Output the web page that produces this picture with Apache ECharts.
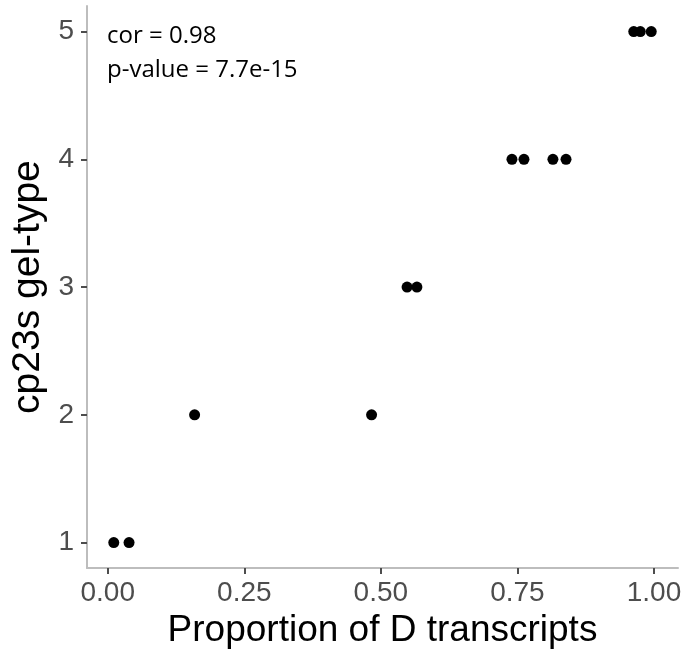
<!DOCTYPE html>
<html>
<head>
<meta charset="utf-8">
<script src="https://cdn.jsdelivr.net/npm/echarts@6/dist/echarts.min.js"></script>
<style>
  html, body { margin: 0; padding: 0; background: #fff; }
  #main { width: 686px; height: 654px; }
</style>
</head>
<body>
<div id="main"></div>
<script>
// proportion of D transcripts vs gel-type
var proportion = [0.011, 0.039, 0.159, 0.483, 0.548, 0.566, 0.740, 0.762, 0.815, 0.839, 0.963, 0.975, 0.995];
var gelType = [1, 1, 2, 2, 3, 3, 4, 4, 4, 4, 5, 5, 5];
var xTicks = [0, 0.25, 0.5, 0.75, 1];
var yTicks = [1, 2, 3, 4, 5];
var corText = 'cor = 0.98';
var pText = 'p-value = 7.7e-15';

var points = proportion.map(function (p, i) {
    return [p, gelType[i]];
});

var myChart = echarts.init(document.getElementById('main'));
var axisGrey = '#bdbdbd';
var labelGrey = '#4d4d4d';

option = {
    animation: false,
    grid: {
        left: 87,
        right: 8,
        top: 6,
        bottom: 85
    },
    xAxis: {
        type: 'value',
        min: -0.038,
        max: 1.044,
        name: 'Proportion of D transcripts',
        nameLocation: 'middle',
        nameGap: 40,
        nameTextStyle: {
            fontFamily: 'Liberation Sans',
            fontSize: 37,
            color: '#000'
        },
        axisLine: { onZero: false, lineStyle: { color: axisGrey, width: 2 } },
        axisTick: {
            show: true,
            length: 6,
            customValues: xTicks,
            lineStyle: { color: labelGrey, width: 2 }
        },
        axisLabel: {
            customValues: xTicks,
            margin: 11,
            fontFamily: 'Liberation Sans',
            fontSize: 28,
            color: labelGrey,
            formatter: function (v) { return v.toFixed(2); }
        },
        splitLine: { show: false }
    },
    yAxis: {
        type: 'value',
        min: 0.8,
        max: 5.2,
        name: 'cp23s gel-type',
        nameLocation: 'middle',
        nameGap: 37,
        nameRotate: 90,
        nameTextStyle: {
            fontFamily: 'Liberation Sans',
            fontSize: 39,
            color: '#000'
        },
        axisLine: { show: true, onZero: false, lineStyle: { color: axisGrey, width: 2 } },
        axisTick: {
            show: true,
            length: 6,
            customValues: yTicks,
            lineStyle: { color: labelGrey, width: 2 }
        },
        axisLabel: {
            customValues: yTicks,
            margin: 13,
            fontFamily: 'Liberation Sans',
            fontSize: 28,
            color: labelGrey
        },
        splitLine: { show: false }
    },
    graphic: [{
        type: 'text',
        x: 107,
        y: 36,
        style: {
            text: corText,
            fontFamily: 'Open Sans',
            fontSize: 24,
            verticalAlign: 'middle',
            fill: '#000'
        }
    }, {
        type: 'text',
        x: 107,
        y: 70,
        style: {
            text: pText,
            fontFamily: 'Open Sans',
            fontSize: 24,
            verticalAlign: 'middle',
            fill: '#000'
        }
    }],
    series: [{
        name: 'scat',
        type: 'scatter',
        symbolSize: 11,
        data: points,
        itemStyle: {
            color: '#000',
            opacity: 1
        }
    }]
};

myChart.setOption(option);
</script>
</body>
</html>
